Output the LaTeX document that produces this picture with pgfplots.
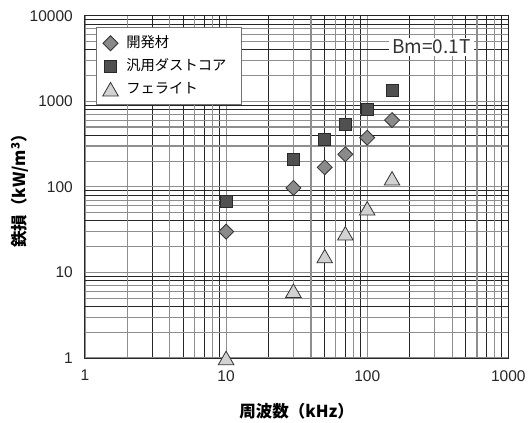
\documentclass[border=0pt]{standalone}
\usepackage{fontspec}
\setmainfont{Liberation Sans}
\newfontfamily\jp{Noto Sans CJK JP}
\usepackage{pgfplots}
\pgfplotsset{compat=1.18}
\definecolor{gridgray}{HTML}{8E8E8E}
\definecolor{griddark}{HTML}{262626}
\definecolor{dfill}{HTML}{8A8A8A}
\definecolor{sfill}{HTML}{505050}
\definecolor{tfill}{HTML}{D2D2D2}
\definecolor{medge}{HTML}{333333}
\pgfplotsset{myleg/.style={legend image code/.code={\draw[mark repeat=2,mark phase=2,##1] plot coordinates {(0bp,0bp)(14bp,0bp)(28bp,0bp)};}}}
\begin{document}
\begin{tikzpicture}
\path[use as bounding box] (-85bp,-65bp) rectangle (443bp,358bp);
\begin{axis}[
  scale only axis, width=423.3bp, height=342.3bp,
  xmode=log, ymode=log, xmin=1, xmax=1000, ymin=1, ymax=10000,
  clip=false,
  xtick={1,10,100,1000}, xticklabels={1,10,100,1000},
  ytick={1,10,100,1000,10000}, yticklabels={1,10,100,1000,10000},
  minor xtick={2,3,4,5,6,7,8,9,20,30,40,50,60,70,80,90,200,300,400,500,600,700,800,900},
  minor ytick={2,3,4,5,6,7,8,9,20,30,40,50,60,70,80,90,200,300,400,500,600,700,800,900,2000,3000,4000,5000,6000,7000,8000,9000},
  grid=both,
  major grid style={draw=gridgray, line width=1.1bp},
  minor grid style={draw=griddark, line width=0.9bp},
  major tick length=0pt, minor tick length=0pt,
  axis line style={draw=black!85, line width=1bp},
  extra x ticks={2,4,6,8,30,40,60,80,300,400,600,800},
  extra x tick labels={},
  extra y ticks={2,3,5,6,7,20,30,50,60,70,200,300,500,600,700,2000,3000,5000,6000,7000},
  extra y tick labels={},
  extra tick style={grid=major, major grid style={draw=gridgray, line width=1.1bp}},
  /pgf/number format/assume math mode=true,
  tick label style={font=\fontsize{15.5bp}{17bp}\selectfont, text=black!85},
  xticklabel style={anchor=north, inner sep=0pt, yshift=-12bp},
  yticklabel style={anchor=east, inner sep=0pt, xshift=-12bp},
  xlabel={周波数（kHz）},
  ylabel={鉄損（kW/m\textsuperscript{3}）},
  xlabel style={font=\jp\bfseries\fontsize{16.5bp}{18bp}\selectfont, at={(axis description cs:0.5,0)}, anchor=center, yshift=-53.7bp},
  ylabel style={font=\jp\bfseries\fontsize{16.5bp}{18bp}\selectfont, at={(axis description cs:0,0.5)}, anchor=center, yshift=65bp},
  legend cell align=left,
  legend style={at={(0,1)}, anchor=north west, xshift=11bp, yshift=-11.3bp,
    draw=black!55, line width=1.5bp, fill=white,
    font=\jp\fontsize{14.3bp}{16bp}\selectfont,
    inner xsep=6bp, inner ysep=4bp,
    nodes={text height=11bp, text depth=3bp, inner ysep=4.5bp, inner xsep=4bp},
    row sep=0bp},
]
\addplot[only marks, myleg, mark=square*, mark size=5.3bp, mark options={rotate=45, fill=dfill, draw=medge, line width=0.8bp}]
  coordinates {(10,30) (30,97) (50,169) (70,240) (100,375) (150,603)};
\addlegendentry{\hspace*{4bp}開発材}
\addplot[only marks, myleg, mark=square*, mark size=6bp, mark options={fill=sfill, draw=medge!80!black, line width=0.8bp}]
  coordinates {(10,67) (30,211) (50,359) (70,542) (100,811) (150,1341)};
\addlegendentry{\hspace*{4bp}汎用ダストコア\hspace*{5bp}}
\addplot[only marks, myleg, mark=triangle*, mark size=9bp, mark options={fill=tfill, draw=medge, line width=0.8bp, yshift=-2.2bp}]
  coordinates {(10,1) (30,6.1) (50,15.5) (70,28.6) (100,56) (150,125.6)};
\addlegendentry{\hspace*{4bp}フェライト}
\node[fill=white, inner xsep=3bp, inner ysep=2bp, font=\jp\fontsize{19bp}{21bp}\selectfont, text=black!80] at (axis cs:285,4340) {Bm=0.1T};
\end{axis}
\end{tikzpicture}
\end{document}
